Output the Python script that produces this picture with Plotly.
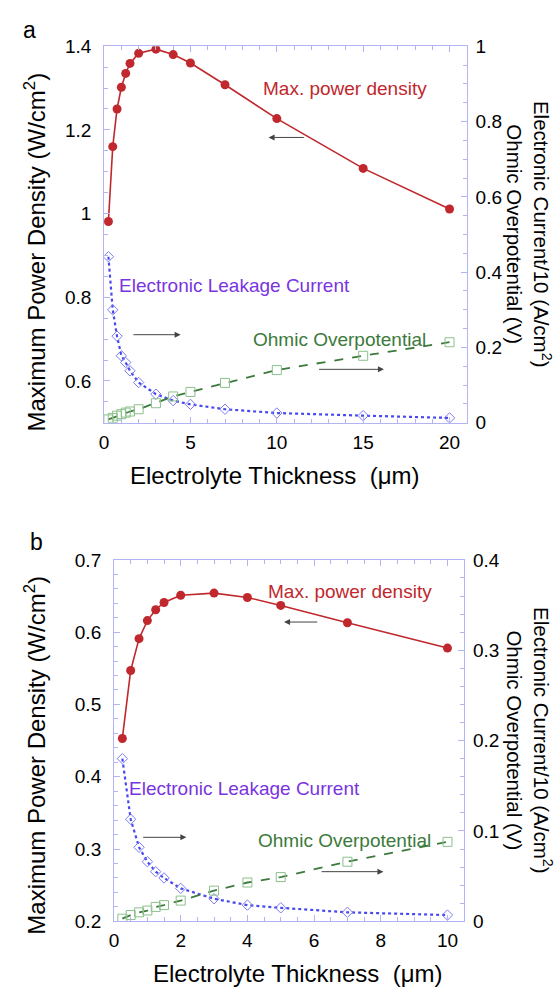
import plotly.graph_objects as go

# ---------------- data ----------------
thick_a = [0.25, 0.5, 0.75, 1, 1.25, 1.5, 2, 3, 4, 5, 7, 10, 15, 20]
power_a = [0.981, 1.160, 1.250, 1.302, 1.335, 1.359, 1.383, 1.393, 1.380, 1.360, 1.308, 1.227, 1.108, 1.011]
leak_a = [0.441, 0.300, 0.230, 0.178, 0.160, 0.138, 0.107, 0.076, 0.059, 0.049, 0.036, 0.026, 0.019, 0.013]
ohm_a = [0.009, 0.013, 0.019, 0.023, 0.027, 0.030, 0.036, 0.052, 0.070, 0.082, 0.106, 0.140, 0.178, 0.214]

thick_b = [0.25, 0.5, 0.75, 1, 1.25, 1.5, 2, 3, 4, 5, 7, 10]
power_b = [0.453, 0.547, 0.591, 0.616, 0.631, 0.641, 0.651, 0.654, 0.648, 0.637, 0.613, 0.578]
leak_b = [0.180, 0.113, 0.082, 0.066, 0.055, 0.048, 0.0365, 0.025, 0.018, 0.015, 0.010, 0.007]
ohm_b = [0.003, 0.007, 0.010, 0.012, 0.016, 0.018, 0.023, 0.034, 0.043, 0.049, 0.066, 0.088]

W, H = 557, 996
RED = "#c0282d"
BLUE = "#4848ee"
LBLUE = "#7c7cf2"
PURPLE = "#7a34e0"
GREEN = "#3c7a3c"
LGREEN = "#8cc08c"
AXC = "#b4b4f4"
FONT = "Liberation Sans, Arial, sans-serif"

def px(x):
    return x / W

def py(y):
    return 1 - y / H

fig = go.Figure()

def add_panel(xs, pw, lk, oh, xa, ya, ya2):
    fig.add_trace(go.Scatter(x=xs, y=pw, xaxis=xa, yaxis=ya, mode="lines+markers",
                             line=dict(color=RED, width=1.6),
                             marker=dict(color=RED, size=9, symbol="circle")))
    fig.add_trace(go.Scatter(x=xs, y=lk, xaxis=xa, yaxis=ya2, mode="lines+markers",
                             line=dict(color=BLUE, width=2.2, dash="dot"),
                             marker=dict(color=LBLUE, size=8, symbol="diamond-open",
                                         line=dict(color=LBLUE, width=1))))
    fig.add_trace(go.Scatter(x=xs, y=oh, xaxis=xa, yaxis=ya2, mode="lines+markers",
                             line=dict(color=GREEN, width=1.8, dash="dash"),
                             marker=dict(size=9, symbol="square-open",
                                         color=LGREEN, line=dict(color=LGREEN, width=1))))

add_panel(thick_a, power_a, leak_a, ohm_a, "x", "y", "y2")
add_panel(thick_b, power_b, leak_b, ohm_b, "x2", "y3", "y4")

tickfont = dict(family=FONT, size=19, color="black")

def xax(dom, rng, dt, mdt, anchor):
    return dict(domain=dom, range=rng, dtick=dt, tick0=0, anchor=anchor,
                showline=True, linecolor=AXC, linewidth=1, mirror="ticks",
                ticks="inside", ticklen=6, tickcolor=AXC, showgrid=False, zeroline=False,
                minor=dict(ticks="inside", ticklen=4, dtick=mdt, tickcolor=AXC, showgrid=False),
                tickfont=tickfont, ticklabelstandoff=2)

def yax(dom, rng, dt, mdt, anchor, side="left", overlay=None, standoff=8):
    d = dict(domain=dom, range=rng, dtick=dt, tick0=0, anchor=anchor, side=side,
             showline=True, linecolor=AXC, linewidth=1,
             ticks="inside", ticklen=6, tickcolor=AXC, showgrid=False, zeroline=False,
             minor=dict(ticks="inside", ticklen=4, dtick=mdt, tickcolor=AXC, showgrid=False),
             tickfont=tickfont, ticklabelstandoff=standoff)
    if overlay:
        d["overlaying"] = overlay
    return d

xa_dom = [px(100), px(466)]
ya_dom = [py(421.7), py(37)]
xb_dom = [px(110), px(463.3)]
yb_dom = [py(931), py(561.7)]

fig.update_layout(
    width=W, height=H, margin=dict(l=0, r=0, t=0, b=0),
    paper_bgcolor="white", plot_bgcolor="white", showlegend=False,
    font=dict(family=FONT, color="black"),
    xaxis=xax(xa_dom, [0, 21], 5, 1, "y"),
    yaxis=yax(ya_dom, [0.5, 1.4], 0.2, 0.05, "x"),
    yaxis2=yax(ya_dom, [0, 1], 0.2, 0.05, "x", side="right", overlay="y", standoff=4),
    xaxis2=xax(xb_dom, [0, 10.5], 2, 0.5, "y3"),
    yaxis3=yax(yb_dom, [0.2, 0.7], 0.1, 0.02, "x2"),
    yaxis4=yax(yb_dom, [0, 0.4], 0.1, 0.02, "x2", side="right", overlay="y3", standoff=4),
)

ann = []
def text(x, y, s, size, color="black", angle=0, xanchor="center", yanchor="middle", align="center"):
    ann.append(dict(x=px(x), y=py(y), xref="paper", yref="paper", text=s, showarrow=False,
                    textangle=angle, xanchor=xanchor, yanchor=yanchor, align=align,
                    font=dict(family=FONT, size=size, color=color)))

def arrow(xh, yh, xt, yt, xr, yr):
    ann.append(dict(x=xh, y=yh, ax=xt, ay=yt, xref=xr, yref=yr, axref=xr, ayref=yr,
                    text="", showarrow=True, arrowhead=2, arrowsize=1.2, arrowwidth=1,
                    arrowcolor="#444444"))

# panel labels
text(25, 20, "a", 23)
text(32, 543, "b", 23)

# axis titles
ytitle = "Maximum Power Density (W/cm<sup>2</sup>)"
rtitle = "Electronic Current/10 (A/cm<sup>2</sup>)<br>Ohmic Overpotential (V)"
xtitle = "Electrolyte Thickness  (\u03bcm)"
text(30, 247, ytitle, 24, angle=-90)
text(30, 761, ytitle, 24, angle=-90)
text(529, 229, rtitle, 20.5, angle=90)
text(529, 746, rtitle, 20.5, angle=90)
text(272, 476, xtitle, 24)
text(295, 984, xtitle, 24)

# series labels panel a
text(258, 80, "Max. power density", 19, RED, xanchor="left")
text(113, 281, "Electronic Leakage Current", 19, PURPLE, xanchor="left")
text(248, 337, "Ohmic Overpotential", 19, GREEN, xanchor="left")
arrow(9.52, 1.182, 11.65, 1.182, "x", "y")
arrow(4.43, 0.234, 1.61, 0.234, "x", "y2")
arrow(16.2, 0.142, 12.36, 0.142, "x", "y2")

# series labels panel b
text(263, 594, "Max. power density", 19, RED, xanchor="left")
text(123, 795, "Electronic Leakage Current", 19, PURPLE, xanchor="left")
text(253, 848, "Ohmic Overpotential", 19, GREEN, xanchor="left")
arrow(5.1, 0.614, 6.14, 0.614, "x2", "y3")
arrow(2.17, 0.093, 0.83, 0.093, "x2", "y4")
arrow(8.08, 0.055, 6.18, 0.055, "x2", "y4")

fig.update_layout(annotations=ann)
fig.write_html("out.html")
